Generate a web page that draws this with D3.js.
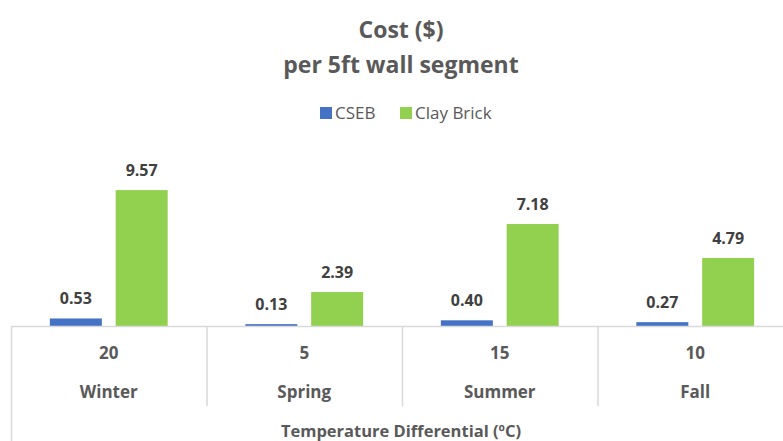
<!DOCTYPE html>
<html><head><meta charset="utf-8">
<script src="https://cdn.jsdelivr.net/npm/d3@7"></script>
<style>body{margin:0;background:#fff}svg{display:block}text{font-family:"Open Sans",Lato,sans-serif}</style>
</head><body><svg id="c" width="783" height="441"></svg>
<script>
const categories = ["Winter","Spring","Summer","Fall"];
const tempDiff = ["20","5","15","10"];
const seriesNames = ["CSEB","Clay Brick"];
const cseb = [0.53,0.13,0.40,0.27];
const clayBrick = [9.57,2.39,7.18,4.79];
const colors = ["#4472C4","#92D050"];

const svg = d3.select("#c");
const x0 = d3.scaleBand().domain(categories).range([11,793]).paddingInner(0).paddingOuter(0);
const x1 = d3.scaleBand().domain(seriesNames).range([0,x0.bandwidth()]).paddingInner(0.21).paddingOuter(0.59);
const y = d3.scaleLinear().domain([0,10]).range([326,184]);
const series = [cseb, clayBrick];

// bars
series.forEach((vals,si)=>{
  svg.append("g").selectAll("rect").data(vals).join("rect")
    .attr("x",(d,i)=>x0(categories[i])+x1(seriesNames[si]))
    .attr("y",d=>y(d)).attr("width",x1.bandwidth()).attr("height",d=>y(0)-y(d))
    .attr("fill",colors[si]);
  svg.append("g").selectAll("text").data(vals).join("text")
    .attr("x",(d,i)=>x0(categories[i])+x1(seriesNames[si])+x1.bandwidth()/2)
    .attr("y",d=>y(d)-14).attr("text-anchor","middle")
    .attr("font-size",16).attr("font-weight","bold").attr("fill","#404040")
    .text(d=>d.toFixed(2));
});

// axis lines
const gc = "#D9D9D9";
svg.append("line").attr("x1",11).attr("x2",783).attr("y1",y(0)+0.5).attr("y2",y(0)+0.5).attr("stroke",gc).attr("stroke-width",1.5);
svg.append("line").attr("x1",11.5).attr("x2",11.5).attr("y1",y(0)).attr("y2",441).attr("stroke",gc).attr("stroke-width",1.5);
categories.slice(1).forEach(c=>{
  svg.append("line").attr("x1",x0(c)+0.5).attr("x2",x0(c)+0.5).attr("y1",y(0)).attr("y2",406).attr("stroke",gc).attr("stroke-width",1.5);
});
// category labels
categories.forEach((c,i)=>{
  const cx = x0(c)+x0.bandwidth()/2;
  svg.append("text").attr("x",cx).attr("y",359).attr("text-anchor","middle").attr("font-size",17).attr("font-weight","bold").attr("fill","#595959").text(tempDiff[i]);
  svg.append("text").attr("x",cx).attr("y",398).attr("text-anchor","middle").attr("font-size",17).attr("font-weight","bold").attr("fill","#595959").text(c);
});
svg.append("text").attr("x",401).attr("y",437).attr("text-anchor","middle").attr("font-size",16.5).attr("font-weight","bold").attr("fill","#595959").text("Temperature Differential (ºC)");

// title
svg.append("text").attr("x",401).attr("y",38).attr("text-anchor","middle").attr("font-size",23).attr("font-weight","bold").attr("fill","#595959").text("Cost ($)");
svg.append("text").attr("x",401).attr("y",73).attr("text-anchor","middle").attr("font-size",23).attr("font-weight","bold").attr("fill","#595959").text("per 5ft wall segment");

// legend
const leg = [{n:"CSEB",x:320},{n:"Clay Brick",x:400}];
leg.forEach((l,i)=>{
  svg.append("rect").attr("x",l.x).attr("y",107).attr("width",12).attr("height",12).attr("fill",colors[i]);
  svg.append("text").attr("x",l.x+15).attr("y",119).attr("font-size",17).attr("fill","#595959").text(l.n);
});
</script></body></html>
